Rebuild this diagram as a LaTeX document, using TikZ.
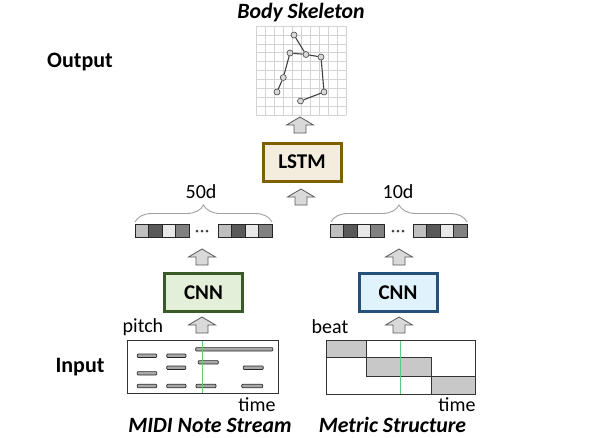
\documentclass[tikz,border=0pt]{standalone}
\usepackage{fontspec}
\setmainfont{Carlito}
\usetikzlibrary{decorations.pathreplacing}
\definecolor{lstmB}{HTML}{7F6000}
\definecolor{lstmF}{HTML}{F4EDDE}
\definecolor{cnnGB}{HTML}{3B5A2A}
\definecolor{cnnGF}{HTML}{E4EFDA}
\definecolor{cnnBB}{HTML}{24507A}
\definecolor{cnnBF}{HTML}{E0F2FB}
\definecolor{arrF}{HTML}{D9D9D9}
\definecolor{arrD}{HTML}{5A5A5A}
\definecolor{vA}{HTML}{BFBFBF}
\definecolor{vB}{HTML}{595959}
\definecolor{vC}{HTML}{E8E8E8}
\definecolor{vD}{HTML}{808080}
\definecolor{gridc}{HTML}{D3D3D3}
\definecolor{greenl}{HTML}{5CCB7A}
\definecolor{cellg}{HTML}{C8C8C8}
\definecolor{barg}{HTML}{A8A8A8}
\definecolor{bracec}{HTML}{A0A0A0}
\tikzset{
  arrowshape/.style={draw=arrD, fill=arrF, line width=0.8pt, line join=miter},
  procbox/.style={draw, line width=3pt, minimum width=78pt, minimum height=38pt, inner sep=0pt,
    font=\bfseries\fontsize{21}{25}\selectfont},
  bigbold/.style={font=\bfseries\fontsize{22}{26}\selectfont},
  lbl/.style={font=\fontsize{20}{24}\selectfont, inner sep=0pt},
  caption/.style={font=\bfseries\itshape\fontsize{21.8}{25}\selectfont, inner sep=0pt},
  joint/.style={circle, draw=black!75, fill=black!15, line width=0.6pt, minimum size=6pt, inner sep=0pt},
  bone/.style={draw=black!75, line width=1.1pt},
  sq/.style={draw=black!85, line width=0.8pt},
  notebar/.style={draw=black!85, fill=barg, line width=0.7pt, rounded corners=0.8pt},
  bracestyle/.style={draw=bracec, line width=0.9pt, decorate, decoration={brace, amplitude=17pt}},
}
\newcommand{\blockup}[2]{%
  \draw[arrowshape] (#1,#2) -- (#1+13.5,#2+8) -- (#1+6,#2+8) -- (#1+6,#2+16)
    -- (#1-6,#2+16) -- (#1-6,#2+8) -- (#1-13.5,#2+8) -- cycle;}
\newcommand{\vecgroup}[2]{%
  \fill[vA] (#1,#2) rectangle ++(13.5,13);
  \fill[vB] (#1+13.5,#2) rectangle ++(13.5,13);
  \fill[vC] (#1+27,#2) rectangle ++(13.5,13);
  \fill[vD] (#1+40.5,#2) rectangle ++(13.5,13);
  \foreach \k in {0,1,2,3} {\draw[sq] (#1+13.5*\k,#2) rectangle ++(13.5,13);}
}
\newcommand{\dotsrow}[2]{%
  \foreach \k in {-5,0,5} {\fill[black!75] (#1+\k,#2) circle (1.5pt);}
}
\begin{document}
\begin{tikzpicture}[x=1pt, y=-1pt]
\useasboundingbox (0,0) rectangle (591,437);

% ---------- output: skeleton ----------
\node[caption] (title) at (301,13) {Body Skeleton};
\node[bigbold] (out) at (80,62) {Output};
\foreach \i in {0,...,10} {
  \draw[gridc, line width=0.6pt] (256+9*\i,26) -- (256+9*\i,115);
  \draw[gridc, line width=0.6pt] (256,26+8.9*\i) -- (346,26+8.9*\i);
}
\node[joint] (j1) at (294,35) {};
\node[joint] (j2) at (306,54.5) {};
\node[joint] (j3) at (290,53) {};
\node[joint] (j4) at (321,57) {};
\node[joint] (j5) at (283.3,77.5) {};
\node[joint] (j6) at (277,92) {};
\node[joint] (j7) at (324,92) {};
\node[joint] (j8) at (300.5,101) {};
\draw[bone] (j1) -- (j2);
\draw[bone] (j3) -- (j2);
\draw[bone] (j2) -- (j4);
\draw[bone] (j3) -- (j5);
\draw[bone] (j5) -- (j6);
\draw[bone] (j4) -- (j7);
\draw[bone] (j7) -- (j8);

\blockup{300}{117}

% ---------- LSTM ----------
\node[procbox, draw=lstmB, fill=lstmF] (lstm) at (302,162) {LSTM};
\blockup{301}{189}

% ---------- feature vectors ----------
\node[lbl] (d50) at (201,192) {50d};
\node[lbl] (d10) at (398,192) {10d};
\draw[bracestyle] (135,222) -- (272,222);
\draw[bracestyle] (331,222) -- (467,222);
\vecgroup{135}{224}
\dotsrow{202}{231}
\vecgroup{218}{224}
\vecgroup{330}{224}
\dotsrow{398}{231}
\vecgroup{413}{224}

\blockup{202}{249}
\blockup{399}{249}

% ---------- CNNs ----------
\node[procbox, draw=cnnGB, fill=cnnGF] (cnn1) at (203.5,292.5) {CNN};
\node[procbox, draw=cnnBB, fill=cnnBF] (cnn2) at (398,292.5) {CNN};

\blockup{202}{317}
\blockup{399}{317}

% ---------- inputs ----------
\node[bigbold] (in) at (80,367) {Input};
\node[lbl] (pitch) at (143,327) {pitch};
\node[lbl] (beat) at (330,327) {beat};

% MIDI note stream
\foreach \a/\b/\y in {137.3/156.7/355.7, 166.7/186/355.7, 195.7/272.7/349.3,
  198.3/218.3/362.3, 166.7/185.7/367.7, 243.3/263.3/367.7, 137.3/156.7/373.3,
  137.3/156.7/386, 166.7/186/386, 196/216/386, 241.7/262.7/386} {
  \draw[notebar] (\a,\y-1.7) rectangle (\b,\y+1.7);
}
\draw[greenl, line width=1pt] (202,340) -- (202,393.5);
\draw[black!80, line width=1pt] (127,340) rectangle (278,393.5);
\node[lbl] (time1) at (257,404.5) {time};
\node[caption] (midi) at (210,425) {MIDI Note Stream};

% Metric structure
\draw[black!80, fill=cellg, line width=1pt] (326,340) rectangle (366.7,357.7);
\draw[black!80, fill=cellg, line width=1pt] (366.7,357.7) rectangle (431,376);
\draw[black!80, fill=cellg, line width=1pt] (431,376) rectangle (475,394);
\draw[greenl, line width=1pt] (400.7,340) -- (400.7,394);
\draw[black!80, line width=1pt] (326,340) rectangle (475,394);
\node[lbl] (time2) at (457,404.5) {time};
\node[caption] (metric) at (392.5,425) {Metric Structure};
\end{tikzpicture}
\end{document}
